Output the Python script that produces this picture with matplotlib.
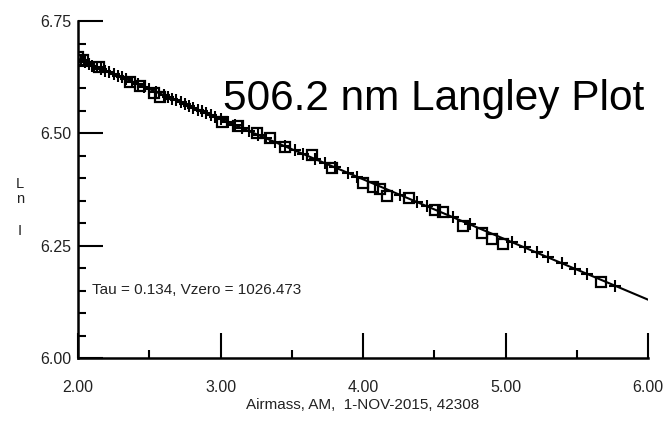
import numpy as np
import matplotlib
matplotlib.use('Agg')
import matplotlib.pyplot as plt

plt.rcParams['font.family'] = ['Liberation Sans', 'DejaVu Sans']

# fit parameters shown on the chart
tau = 0.134
vzero = 1026.473

# square markers (airmass, ln I)
sq_x = [2.00, 2.035, 2.15, 2.365, 2.435, 2.53, 2.575, 3.01, 3.12, 3.255, 3.35,
        3.455, 3.64, 3.78, 4.00, 4.07, 4.12, 4.17, 4.32, 4.505, 4.56, 4.70,
        4.835, 4.905, 4.98, 5.67]
sq_y = [6.670, 6.663, 6.648, 6.614, 6.605, 6.590, 6.581, 6.525, 6.516, 6.500, 6.490,
        6.470, 6.452, 6.423, 6.390, 6.381, 6.376, 6.360, 6.357, 6.330, 6.325, 6.294,
        6.278, 6.265, 6.254, 6.170]

# plus markers
pl_x = [2.02, 2.05, 2.08, 2.10, 2.13, 2.16, 2.19, 2.22, 2.25, 2.28, 2.31, 2.34,
        2.38, 2.42, 2.46, 2.50, 2.55, 2.60, 2.63, 2.66, 2.69, 2.72, 2.75, 2.78,
        2.81, 2.84, 2.87, 2.90, 2.93, 2.96, 3.00, 3.05, 3.10, 3.15, 3.20, 3.26,
        3.32, 3.38, 3.45, 3.52, 3.58, 3.66, 3.73, 3.80, 3.895, 3.958, 4.26, 4.38,
        4.45, 4.63, 4.75, 5.045, 5.137, 5.22, 5.30, 5.40, 5.49, 5.57, 5.77]
pl_y = [6.663, 6.659, 6.655, 6.651, 6.648, 6.644, 6.640, 6.636, 6.632, 6.628, 6.625, 6.620,
        6.614, 6.610, 6.604, 6.599, 6.592, 6.585, 6.581, 6.577, 6.574, 6.569, 6.566, 6.561,
        6.557, 6.553, 6.549, 6.545, 6.541, 6.537, 6.532, 6.525, 6.518, 6.512, 6.505, 6.497,
        6.489, 6.481, 6.472, 6.462, 6.454, 6.443, 6.434, 6.425, 6.412, 6.404, 6.363, 6.347,
        6.338, 6.314, 6.298, 6.258, 6.246, 6.235, 6.224, 6.211, 6.199, 6.188, 6.160]

fig = plt.figure(figsize=(6.67, 4.22), dpi=100)
ax = fig.add_axes([0.117, 0.1517, 0.8545, 0.7983])

# fitted line ln I = ln V0 - tau * AM
fx = np.array([2.0, 6.0])
ax.plot(fx, np.log(vzero) - tau * fx, color='black', lw=1.5, zorder=2)
ax.plot(sq_x, sq_y, 's', ms=6.5, mfc='none', mec='black', mew=1.6, zorder=3)
ax.plot(pl_x, pl_y, '+', ms=9, color='black', mew=1.5, zorder=4)

ax.set_xlim(2.0, 6.0)
ax.set_ylim(6.0, 6.75)
ax.set_xticks([2, 3, 4, 5, 6])
ax.set_xticklabels(['2.00', '3.00', '4.00', '5.00', '6.00'])
ax.set_xticks([2.5, 3.5, 4.5, 5.5], minor=True)
ax.set_yticks([6.0, 6.25, 6.5, 6.75])
ax.set_yticklabels(['6.00', '6.25', '6.50', '6.75'])
ax.set_yticks(np.arange(6.05, 6.75, 0.05), minor=True)

ax.spines['top'].set_visible(False)
ax.spines['right'].set_visible(False)
ax.spines['left'].set_linewidth(1.8)
ax.spines['bottom'].set_linewidth(1.8)
ax.tick_params(which='major', direction='in', length=18, width=1.5, labelsize=11.5,
               labelcolor='#222222')
ax.tick_params(which='minor', direction='in', length=6, width=1.5)
ax.tick_params(axis='x', which='major', pad=16)
ax.tick_params(axis='y', which='major', pad=5)

ax.set_xlabel('Airmass, AM,  1-NOV-2015, 42308', fontsize=11, color='#222222', labelpad=2)
fig.text(0.03, 0.509, 'L\nn\n\nI', fontsize=10.5, color='#222222', ha='center', va='center',
         linespacing=1.15)

fig.text(0.65, 0.765, '506.2 nm Langley Plot', fontsize=30.5, ha='center', va='center')
ax.text(2.10, 6.151, 'Tau = 0.134, Vzero = 1026.473', fontsize=11, color='#222222',
        va='center')

fig.savefig('out.png', dpi=100)
